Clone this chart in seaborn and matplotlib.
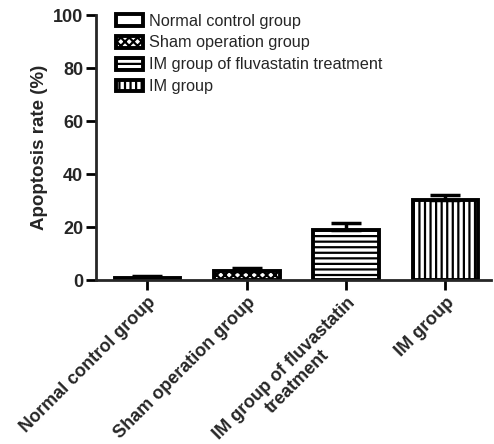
import matplotlib
matplotlib.use("Agg")
import matplotlib.pyplot as plt
import seaborn as sns
import numpy as np

groups = ["Normal control group", "Sham operation group",
          "IM group of fluvastatin treatment", "IM group"]
tick_labels = ["Normal control group", "Sham operation group",
               "IM group of fluvastatin\ntreatment", "IM group"]
rates = [0.9, 3.6, 19.0, 30.2]
errors = [0.6, 0.9, 2.5, 2.0]
hatches = ["", "xxxx", "---", "|||"]

sns.set_style("ticks")
plt.rcParams["font.family"] = ["Liberation Sans", "DejaVu Sans"]
plt.rcParams["hatch.linewidth"] = 1.6

fig = plt.figure(figsize=(4.94, 4.44), dpi=100)
ax = fig.add_axes([0.194, 0.369, 0.80, 0.597])

sns.barplot(x=groups, y=rates, color="white", edgecolor="black",
            linewidth=2.8, width=0.66, errorbar=None, ax=ax)
for bar, h in zip(ax.patches, hatches):
    bar.set_hatch(h)
    bar.set_facecolor("white")

ax.errorbar(range(len(groups)), rates, yerr=[np.zeros(len(errors)), errors],
            fmt="none", ecolor="black", elinewidth=2.5, capsize=11, capthick=2.5)

ax.set_ylim(0, 100)
ax.set_xlim(-0.52, 3.46)
ax.set_yticks([0, 20, 40, 60, 80, 100])
ax.set_ylabel("Apoptosis rate (%)", fontsize=13.5, fontweight="bold", labelpad=4)
ax.set_xticks(range(len(groups)))
ax.set_xticklabels(tick_labels, rotation=45, ha="right", rotation_mode="anchor",
                   fontsize=13, fontweight="bold", multialignment="center")
for lab in ax.get_yticklabels():
    lab.set_fontweight("bold")
    lab.set_fontsize(13)
ax.tick_params(axis="both", width=2, length=7, color="black")
ax.tick_params(axis="y", pad=2)
ax.tick_params(axis="x", pad=3)
sns.despine(ax=ax)
ax.spines["left"].set_linewidth(2)
ax.spines["bottom"].set_linewidth(2)

ax.legend(ax.patches[:4], groups, loc="upper left", bbox_to_anchor=(0.035, 1.03),
          frameon=False, fontsize=11.7, handlelength=1.66, handleheight=0.74,
          labelspacing=0.42, handletextpad=0.37, borderaxespad=0)

fig.savefig("out.png", dpi=100)
